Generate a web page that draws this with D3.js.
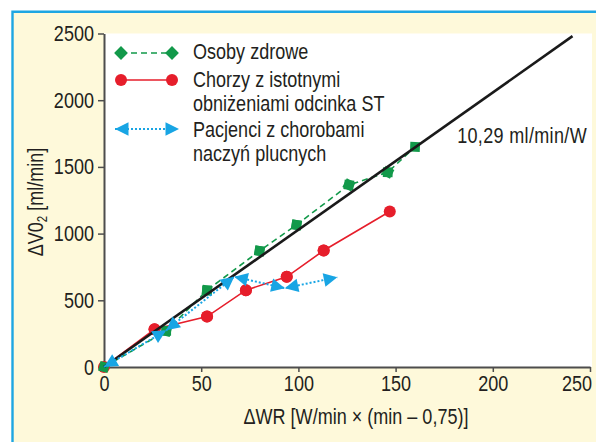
<!DOCTYPE html>
<html>
<head>
<meta charset="utf-8">
<script src="https://cdn.jsdelivr.net/npm/d3@7"></script>
<style>
  body { margin: 0; background: #fff; }
  text { font-family: "Liberation Sans", Arial, sans-serif; fill: #231f20; }
</style>
</head>
<body>
<script>
// values
const xTicks = [0, 50, 100, 150, 200, 250];
const yTicks = [0, 500, 1000, 1500, 2000, 2500];

const healthyX = [0, 32, 53, 80, 99, 126, 146, 160];
const healthyY = [0, 270, 575, 870, 1065, 1365, 1460, 1650];

const ischemicX = [0, 26, 53, 73, 94, 113, 147];
const ischemicY = [0, 283, 378, 576, 676, 873, 1166];

const pulmonaryX = [0, 32, 67, 93, 120];
const pulmonaryY = [0, 275, 677, 591, 673];

const fitX = [0, 241];
const fitY = [0, 2480];
const fitLabel = "10,29 ml/min/W";

const legendLabels = [
  ["Osoby zdrowe"],
  ["Chorzy z istotnymi", "obniżeniami odcinka ST"],
  ["Pacjenci z chorobami", "naczyń plucnych"]
];

const W = 596, H = 442;
const FS = 22;
const green = "#12994a", red = "#e61e2b", blue = "#18a5e4";
const squeeze = 0.82; // the original face is a condensed grotesque

let svg = d3.select("body").append("svg")
    .attr("width", W)
    .attr("height", H);

// cream panel with blue edge on top and left
svg.append("rect").attr("x", 12).attr("y", 12).attr("width", W - 12).attr("height", H - 12)
    .attr("fill", "#fef9da");
svg.append("path").attr("d", "M12.5," + H + "V11.7H" + W)
    .attr("fill", "none").attr("stroke", "#1ea6e2").attr("stroke-width", 2.4);

let x = d3.scaleLinear().domain([0, 250]).range([104, 590]);
let y = d3.scaleLinear().domain([0, 2500]).range([367, 33.5]);

// white plot area
svg.append("rect").attr("x", x(0)).attr("y", y(2500))
    .attr("width", 592 - x(0)).attr("height", y(0) - y(2500))
    .attr("fill", "#fff");

let zip = (xs, ys) => xs.map((v, i) => [x(v), y(ys[i])]);

// marker shapes, drawn pointing along angle a (degrees)
let diamond = (g, p, a) => g.append("path")
    .attr("d", "M6.9,0L0,6.9L-6.9,0L0,-6.9Z")
    .attr("transform", "translate(" + p + ") rotate(" + a + ")")
    .attr("fill", green);
let arrow = (g, p, a) => g.append("path")
    .attr("d", "M0,0L-13.5,-6.8L-13.5,6.8Z")
    .attr("transform", "translate(" + p + ") rotate(" + a + ")")
    .attr("fill", blue);
let dot = (g, p) => g.append("circle")
    .attr("cx", p[0]).attr("cy", p[1]).attr("r", 6)
    .attr("fill", red);

// every segment gets a marker at both of its ends
function drawSeries(pts, color, dash, width, marker) {
    let g = svg.append("g");
    g.append("path").datum(pts)
        .attr("d", d3.line())
        .attr("fill", "none")
        .attr("stroke", color)
        .attr("stroke-width", width)
        .attr("stroke-dasharray", dash);
    for (let i = 0; i < pts.length - 1; i++) {
        let p0 = pts[i], p1 = pts[i + 1];
        let a = Math.atan2(p1[1] - p0[1], p1[0] - p0[0]) * 180 / Math.PI;
        marker(g, p0, a + 180);
        marker(g, p1, a);
    }
    return g;
}

// axes
let yAxis = svg.append("g")
    .attr("transform", "translate(" + x(0) + ",0)")
    .call(d3.axisLeft(y).tickValues(yTicks).tickFormat(d3.format("d"))
        .tickSize(6).tickSizeOuter(0).tickPadding(4));
let xAxis = svg.append("g")
    .attr("transform", "translate(0," + y(0) + ")")
    .call(d3.axisBottom(x).tickValues(xTicks).tickFormat(d3.format("d"))
        .tickSize(5).tickSizeOuter(0).tickPadding(3));
[xAxis, yAxis].forEach(ax => {
    ax.select(".domain").attr("stroke", "#4d4d4d").attr("stroke-width", 2);
    ax.selectAll(".tick line").attr("stroke", "#4d4d4d").attr("stroke-width", 1.5);
    ax.selectAll("text").attr("font-size", FS).attr("fill", "#231f20")
        .style("font-family", "'Liberation Sans', Arial, sans-serif");
});
// last x label is pulled inside the frame
xAxis.selectAll(".tick text").filter(d => d === 250).attr("text-anchor", "end").attr("dx", 2);

drawSeries(zip(ischemicX, ischemicY), red, null, 1.6, (g, p) => dot(g, p));
drawSeries(zip(healthyX, healthyY), green, "6,4", 1.6, diamond);

svg.append("path").datum(zip(fitX, fitY))
    .attr("d", d3.line())
    .attr("fill", "none")
    .attr("stroke", "#1a1a1a")
    .attr("stroke-width", 2.6);

drawSeries(zip(pulmonaryX, pulmonaryY), blue, "2,2", 2, arrow);

svg.append("text").attr("x", 587).attr("y", 143)
    .attr("text-anchor", "end").attr("font-size", FS)
    .attr("letter-spacing", 0.4)
    .text(fitLabel);

// axis titles
svg.append("text").attr("x", 356).attr("y", 424)
    .attr("text-anchor", "middle").attr("font-size", FS)
    .text("ΔWR [W/min × (min – 0,75)]");

// legend
let legendY = [53, 80, 129];
let lx0 = 121, lx1 = 172;
drawSeries([[lx0, legendY[0]], [lx1, legendY[0]]], green, "6,4", 1.6, diamond);
drawSeries([[lx0, legendY[1]], [lx1, legendY[1]]], red, null, 1.6, (g, p) => dot(g, p));
drawSeries([[115, legendY[2]], [179, legendY[2]]], blue, "2,2", 2, arrow);

let textTop = [59, 87, 137];
legendLabels.forEach((lines, i) => {
    lines.forEach((s, j) => {
        svg.append("text").attr("x", 193).attr("y", textTop[i] + j * 23.5)
            .attr("font-size", FS).text(s);
    });
});

// narrow every plain label to the condensed look
svg.selectAll("text").each(function () {
    let t = d3.select(this);
    let tx = +t.attr("x") || 0, ty = +t.attr("y") || 0;
    t.attr("x", 0).attr("y", 0)
        .attr("transform", "translate(" + tx + "," + ty + ") scale(" + squeeze + ",1)");
});

// rotated title with subscript, squeezed along its own axis
let yt = svg.append("text")
    .attr("transform", "translate(43,202) rotate(-90) scale(" + squeeze + ",1)")
    .attr("text-anchor", "middle").attr("font-size", FS);
yt.append("tspan").text("ΔV0");
yt.append("tspan").attr("font-size", 14).attr("dy", 4).text("2");
yt.append("tspan").attr("dy", -4).text(" [ml/min]");
</script>
</body>
</html>
